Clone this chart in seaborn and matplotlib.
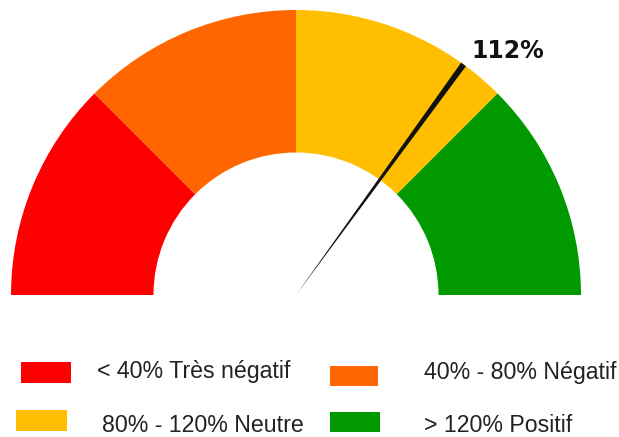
import numpy as np
import seaborn as sns
import matplotlib.pyplot as plt
from matplotlib.patches import Wedge, Polygon, Rectangle

# Gauge data
bands = ['< 40% Très négatif', '40% - 80% Négatif',
         '80% - 120% Neutre', '> 120% Positif']
band_limits = [0, 40, 80, 120, 160]
band_colors = ['#FF0000', '#FF6600', '#FFBF00', '#009900']
value = 112
value_label = '112%'

W, H = 619, 437
CX, CY, R = 296, 295, 285   # gauge centre / radius in pixels (top-left origin)


def px(x, y):
    """Convert a pixel position (top-left origin) to data coordinates."""
    return (x - CX) / R, (CY - y) / R


def to_angle(v):
    """Map a gauge value to an angle in degrees (0 = right, 180 = left)."""
    return 180 - (v - band_limits[0]) / (band_limits[-1] - band_limits[0]) * 180


sns.set_theme(style='white')
plt.rcParams['font.family'] = ['Liberation Sans', 'DejaVu Sans']

fig = plt.figure(figsize=(W / 100, H / 100), dpi=100)
ax = fig.add_axes([0, 0, 1, 1])
x0, y1 = px(0, 0)
x1, y0 = px(W, H)
ax.set_xlim(x0, x1)
ax.set_ylim(y0, y1)
ax.set_aspect('equal')
ax.axis('off')

# colour bands
for i in range(len(bands)):
    a1 = to_angle(band_limits[i + 1])
    a2 = to_angle(band_limits[i])
    ax.add_patch(Wedge((0, 0), 1.0, a1, a2, width=0.5,
                       facecolor=band_colors[i], edgecolor='none'))

# needle: thin at the centre, wider at the tip
ang = np.radians(to_angle(value))
d = np.array([np.cos(ang), np.sin(ang)])
n = np.array([-d[1], d[0]])
half = 3.0 / R
tip = d * 1.0
ax.add_patch(Polygon([(0, 0), tip + n * half, tip - n * half],
                     closed=True, facecolor='#111111', edgecolor='none'))
tx, ty = px(471, 58)
ax.text(tx, ty, value_label, family='DejaVu Sans', fontweight='bold',
        fontsize=17, color='#111111', ha='left', va='baseline')

# legend drawn by hand to keep the original staggered layout
legend_boxes = [(21, 362, 71, 383), (330, 366, 378, 386),
                (16, 410, 67, 431), (330, 412, 380, 432)]
legend_text = [(97, 378), (424, 379), (102, 432), (424, 432)]
for i in range(len(bands)):
    bx0, by0, bx1, by1 = legend_boxes[i]
    lx, ly = px(bx0, by1)
    ax.add_patch(Rectangle((lx, ly), (bx1 - bx0) / R, (by1 - by0) / R,
                           facecolor=band_colors[i], edgecolor='none'))
    tx, ty = px(*legend_text[i])
    ax.text(tx, ty, bands[i], fontsize=16.7, color='#222222',
            ha='left', va='baseline')

fig.savefig('out.png', dpi=100)
